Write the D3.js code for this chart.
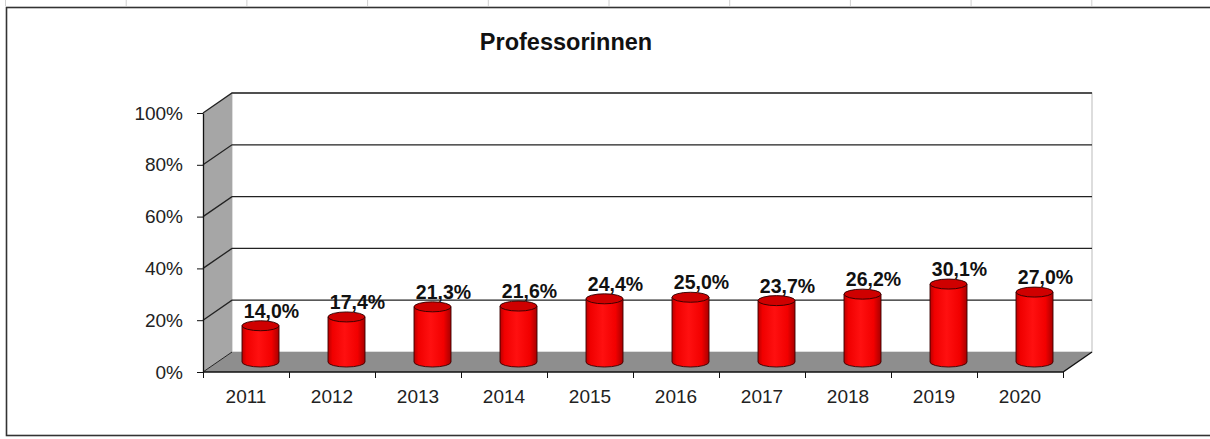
<!DOCTYPE html>
<html>
<head>
<meta charset="utf-8">
<script src="https://cdn.jsdelivr.net/npm/d3@7"></script>
<style>
  body { margin: 0; background: #fff; }
  text { font-family: "Liberation Sans", Arial, sans-serif; }
</style>
</head>
<body>
<div id="chart"></div>
<script>
    // data
    var years = ["2011", "2012", "2013", "2014", "2015", "2016", "2017", "2018", "2019", "2020"]
    var shares = [14.0, 17.4, 21.3, 21.6, 24.4, 25.0, 23.7, 26.2, 30.1, 27.0]
    var yTicks = [0, 20, 40, 60, 80, 100]
    var title = "Professorinnen"

    var width = 1210
    var height = 439

    // 3d depth offset of the plot box
    var depth = {dx: 29, dy: -20}

    var svg = d3.select("#chart")
      .append("svg")
      .attr("width", width)
      .attr("height", height)

    // frame round the chart + faint sheet column marks on top
    svg.append("rect")
        .attr("x", 6.5).attr("y", 7.5)
        .attr("width", width + 20).attr("height", 428)
        .attr("fill", "#fff")
        .attr("stroke", "#333")
        .attr("stroke-width", 1.6)

    svg.append("g").selectAll("line")
        .data(d3.range(10))
        .join("line")
          .attr("x1", d => 5.5 + d * 120.7).attr("x2", d => 5.5 + d * 120.7)
          .attr("y1", 0).attr("y2", 6)
          .attr("stroke", "#d0d0d0")

    svg.append("text")
        .attr("x", 566)
        .attr("y", 50)
        .attr("text-anchor", "middle")
        .style("font-size", "23.5px")
        .style("font-weight", "bold")
        .attr("fill", "#111")
        .text(title)

    // scales
    var x = d3.scaleBand()
        .domain(years)
        .range([203, 1063])

    var xEdge = d3.scaleLinear()
        .domain([0, years.length])
        .range([203, 1063])

    var y = d3.scaleLinear()
        .domain([0, 100])
        .range([372, 113])

    var x0 = x.range()[0], x1 = x.range()[1]
    var yBottom = y(0), yTop = y(100)

    // back wall
    svg.append("rect")
        .attr("x", x0 + depth.dx).attr("y", yTop + depth.dy)
        .attr("width", x1 - x0).attr("height", yBottom - yTop)
        .attr("fill", "#fff")
        .attr("stroke", "#bbb")

    // left side wall
    svg.append("polygon")
        .attr("points", [[x0, yTop], [x0 + depth.dx, yTop + depth.dy], [x0 + depth.dx, yBottom + depth.dy], [x0, yBottom]].join(" "))
        .attr("fill", "#a6a6a6")

    // floor
    svg.append("polygon")
        .attr("points", [[x0, yBottom], [x0 + depth.dx, yBottom + depth.dy], [x1 + depth.dx, yBottom + depth.dy], [x1, yBottom]].join(" "))
        .attr("fill", "#8e8e8e")

    // gridlines: across back wall and diagonal on the side wall
    var grid = svg.append("g")
    grid.selectAll("path")
        .data(yTicks.filter(d => d > 0))
        .join("path")
          .attr("d", d => "M" + x0 + "," + y(d) + "L" + (x0 + depth.dx) + "," + (y(d) + depth.dy) + "H" + (x1 + depth.dx))
          .attr("fill", "none")
          .attr("stroke", "#222")
          .attr("stroke-width", 1.3)

    // floor outline at the front + right edge
    svg.append("path")
        .attr("d", "M" + x0 + "," + yBottom + "L" + (x0 + depth.dx) + "," + (yBottom + depth.dy))
        .attr("stroke", "#222").attr("fill", "none")
    svg.append("path")
        .attr("d", "M" + x0 + "," + yBottom + "H" + x1 + "L" + (x1 + depth.dx) + "," + (yBottom + depth.dy))
        .attr("stroke", "#111").attr("stroke-width", 1.3).attr("fill", "none")

    // y axis
    var yAxis = svg.append("g")
        .attr("transform", "translate(" + x0 + ",0)")
        .call(d3.axisLeft(y)
            .tickValues(yTicks)
            .tickFormat(d => d + "%")
            .tickSize(6)
            .tickSizeOuter(0)
            .tickPadding(14))
    yAxis.select(".domain").attr("stroke", "#111").attr("stroke-width", 1.3)
    yAxis.selectAll(".tick line").attr("stroke", "#111")
    yAxis.selectAll("text")
        .style("font-size", "19px")
        .attr("fill", "#222")

    // x axis: ticks at category boundaries, labels at centers
    var xTickAxis = svg.append("g")
        .attr("transform", "translate(0," + yBottom + ")")
        .call(d3.axisBottom(xEdge)
            .tickValues(d3.range(years.length + 1))
            .tickFormat("")
            .tickSize(6)
            .tickSizeOuter(0))
    xTickAxis.select(".domain").remove()
    xTickAxis.selectAll(".tick line").attr("stroke", "#111")

    var xLabelAxis = svg.append("g")
        .attr("transform", "translate(0," + yBottom + ")")
        .call(d3.axisBottom(x)
            .tickSize(0)
            .tickPadding(18))
    xLabelAxis.select(".domain").remove()
    xLabelAxis.selectAll("text")
        .style("font-size", "19px")
        .attr("fill", "#222")

    // cylinder shading
    var defs = svg.append("defs")
    var grad = defs.append("linearGradient")
        .attr("id", "cyl")
        .attr("x1", "0%").attr("x2", "100%")
        .attr("y1", "0%").attr("y2", "0%")
    grad.selectAll("stop")
        .data([[0, "#b80000"], [0.12, "#f00000"], [0.45, "#ff1010"], [0.8, "#f20000"], [1, "#a80000"]])
        .join("stop")
          .attr("offset", d => d[0])
          .attr("stop-color", d => d[1])

    var rx = 18.5, ry = 5
    var bars = years.map(function(yr, i) {
        return {
            year: yr,
            value: shares[i],
            cx: x(yr) + x.bandwidth() / 2 + depth.dx / 2,
            yb: y(0) + depth.dy / 2,
            yt: y(shares[i]) + depth.dy / 2
        }
    })

    var cyl = svg.append("g").selectAll("g")
        .data(bars)
        .join("g")

    cyl.append("path")
        .attr("d", d => "M" + (d.cx - rx) + "," + d.yt +
            "V" + d.yb +
            "A" + rx + "," + ry + " 0 0 0 " + (d.cx + rx) + "," + d.yb +
            "V" + d.yt + "Z")
        .attr("fill", "url(#cyl)")
        .attr("stroke", "#3a0000")
        .attr("stroke-width", 0.9)

    cyl.append("ellipse")
        .attr("cx", d => d.cx)
        .attr("cy", d => d.yt)
        .attr("rx", rx)
        .attr("ry", ry)
        .attr("fill", "#cf0000")
        .attr("stroke", "#2a0000")
        .attr("stroke-width", 0.9)

    // value labels (german decimal comma)
    svg.append("g").selectAll("text")
        .data(bars)
        .join("text")
          .attr("x", d => d.cx + 11)
          .attr("y", d => y(d.value) + depth.dy + 2)
          .attr("text-anchor", "middle")
          .style("font-size", "19.5px")
          .style("font-weight", "bold")
          .attr("fill", "#111")
          .text(d => d.value.toFixed(1).replace(".", ",") + "%")
</script>
</body>
</html>
